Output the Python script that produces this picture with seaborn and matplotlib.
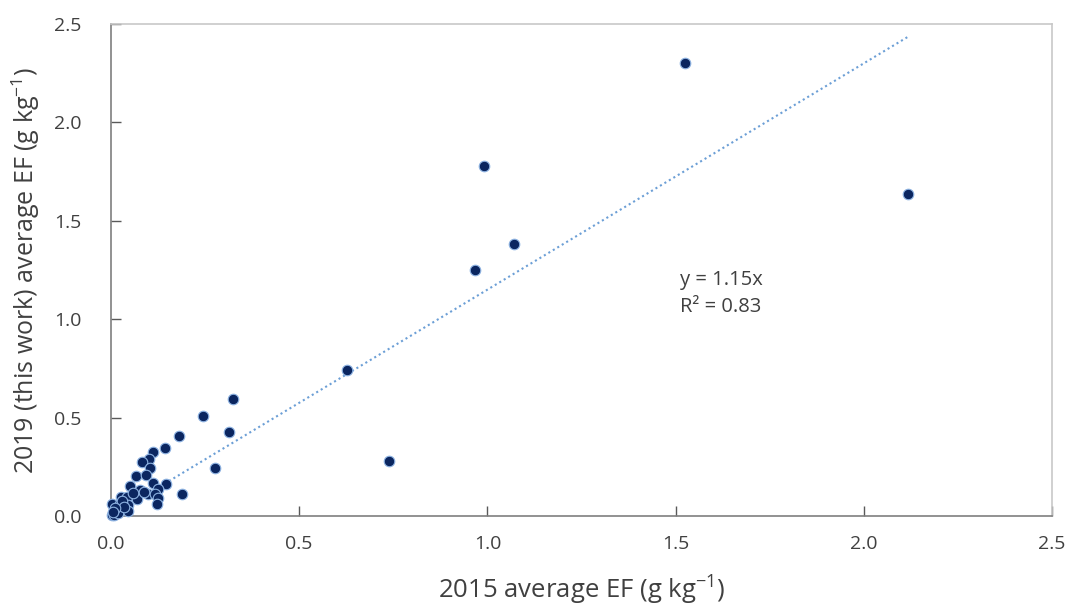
import matplotlib
matplotlib.use("Agg")
import matplotlib.pyplot as plt
import seaborn as sns
import numpy as np
import pandas as pd

# 2015 average EF (x) and 2019 average EF (y), g/kg
ef_2015 = [1.526, 2.118, 0.992, 1.070, 0.967, 0.628, 0.738, 0.325, 0.314, 0.277,
           0.245, 0.181, 0.189, 0.144, 0.113, 0.100, 0.082, 0.105, 0.066, 0.093,
           0.113, 0.147, 0.051, 0.077, 0.126, 0.099, 0.117, 0.027, 0.043, 0.068,
           0.126, 0.123, 0.004, 0.024, 0.044, 0.044, 0.015, 0.002, 0.009, 0.020,
           0.030, 0.058, 0.088, 0.035, 0.010, 0.006]
ef_2019 = [2.303, 1.635, 1.776, 1.380, 1.250, 0.744, 0.278, 0.592, 0.425, 0.243,
           0.506, 0.405, 0.111, 0.344, 0.324, 0.290, 0.273, 0.246, 0.204, 0.207,
           0.169, 0.165, 0.152, 0.133, 0.135, 0.111, 0.110, 0.098, 0.095, 0.088,
           0.090, 0.061, 0.061, 0.061, 0.056, 0.027, 0.025, 0.005, 0.005, 0.014,
           0.075, 0.115, 0.120, 0.045, 0.040, 0.020]
slope = 1.15
eq_text = "y = 1.15x\nR² = 0.83"
x_ticks = [0.0, 0.5, 1.0, 1.5, 2.0, 2.5]
y_ticks = [0.0, 0.5, 1.0, 1.5, 2.0, 2.5]

df = pd.DataFrame({"x": ef_2015, "y": ef_2019})

sns.set_theme(style="white")
plt.rcParams['font.family'] = ['Open Sans', 'DejaVu Sans']
plt.rcParams['mathtext.fontset'] = 'custom'
plt.rcParams['mathtext.rm'] = 'Open Sans'
plt.rcParams['mathtext.it'] = 'Open Sans'
plt.rcParams['mathtext.default'] = 'regular'

fig = plt.figure(figsize=(10.7, 6.1), dpi=100)
ax = fig.add_axes([0.1037, 0.1541, 0.8795, 0.8066])

# trend line
xmax = max(ef_2015)
tl = pd.DataFrame({"x": [0.0, xmax], "y": [0.0, slope * xmax]})
sns.lineplot(data=tl, x="x", y="y", ax=ax, color="#6C9FD6", linestyle=(0, (1, 1.5)),
             linewidth=1.5, zorder=2)

sns.scatterplot(data=df, x="x", y="y", ax=ax, color="#0B2660", edgecolor="#8FB4E3",
                linewidth=0.8, s=58, zorder=3, clip_on=False)

ax.set_xlim(0, 2.5)
ax.set_ylim(0, 2.5)
ax.set_xticks(x_ticks)
ax.set_yticks(y_ticks)
ax.set_xticklabels([f"{t:.1f}" for t in x_ticks])
ax.set_yticklabels([f"{t:.1f}" for t in y_ticks])
ax.tick_params(axis="x", direction="in", length=7, width=1, colors="#595959",
               labelsize=14, labelcolor="#404040", pad=14, bottom=True)
ax.tick_params(axis="y", direction="in", length=7, width=1, colors="#595959",
               labelsize=14, labelcolor="#404040", pad=21, left=True)

for side in ["left", "bottom"]:
    ax.spines[side].set_color("#7F7F7F")
    ax.spines[side].set_linewidth(1.2)
for side in ["top", "right"]:
    ax.spines[side].set_color("#C8C8C8")
    ax.spines[side].set_linewidth(1.2)

ax.set_xlabel("2015 average EF (g kg$^{-1}$)", fontsize=18.5, color="#404040", labelpad=15)
ax.set_ylabel("2019 (this work) average EF (g kg$^{-1}$)", fontsize=18, color="#404040",
              labelpad=9)

ax.text(1.512, 1.13, eq_text, fontsize=14.5, color="#404040", va="center", ha="left",
        linespacing=1.45)

fig.savefig("out.png", dpi=100)
